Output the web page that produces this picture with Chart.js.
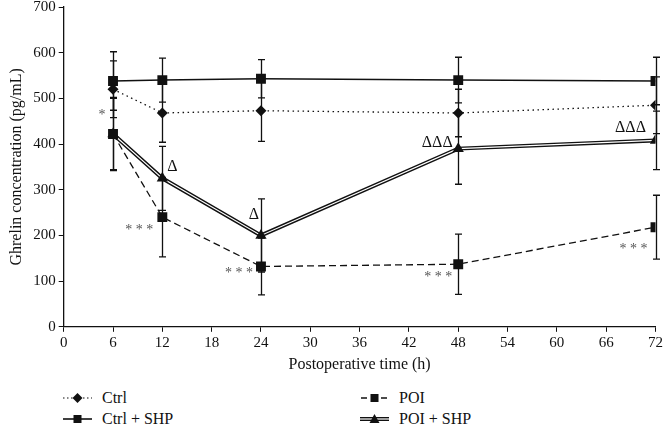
<html>
<head>
<style>
  body { margin: 0; background: #fff; font-family: "Liberation Serif", "DejaVu Serif", serif; }
  #wrap { position: relative; width: 665px; height: 374px; overflow: hidden; }
  #myChart { position: absolute; left: 0; top: -5px; }
  #legend { position: relative; width: 665px; height: 57px; font-size: 16px; color: #111; }
  .item { position: absolute; display: flex; align-items: center; line-height: 18px; }
  .item svg { margin-right: 10px; }
</style>
</head>
<body>
<div id="wrap"><canvas id="myChart" width="665" height="379"></canvas></div>
<div id="legend">
  <div class="item" style="left:63px;top:15px">
    <svg width="29" height="12"><line x1="0" y1="6" x2="29" y2="6" stroke="#111" stroke-width="1.2" stroke-dasharray="1.5,2.5"/><path d="M14.5 1 L19.5 6 L14.5 11 L9.5 6 Z" fill="#111"/></svg>Ctrl</div>
  <div class="item" style="left:360px;top:15px">
    <svg width="29" height="12"><line x1="0" y1="6" x2="29" y2="6" stroke="#111" stroke-width="1.3" stroke-dasharray="6,4" stroke-dashoffset="-1"/><rect x="10.5" y="2" width="8" height="8" fill="#111"/></svg>POI</div>
  <div class="item" style="left:63px;top:36px">
    <svg width="29" height="12"><line x1="0" y1="6" x2="29" y2="6" stroke="#111" stroke-width="1.6"/><rect x="10.5" y="2" width="8" height="8" fill="#111"/></svg>Ctrl + SHP</div>
  <div class="item" style="left:360px;top:36px">
    <svg width="29" height="12"><line x1="0" y1="6" x2="29" y2="6" stroke="#111" stroke-width="4"/><line x1="0" y1="6" x2="29" y2="6" stroke="#fff" stroke-width="1.2"/><path d="M14.5 1 L19.5 10 L9.5 10 Z" fill="#111"/></svg>POI + SHP</div>
</div>
<script src="https://cdn.jsdelivr.net/npm/chart.js@4.4.0/dist/chart.umd.min.js"></script>
<script>
    const hours = [6, 12, 24, 48, 72];
    const ctrl = [520, 468, 473, 468, 485];
    const ctrlSd = [62, 64, 67, 52, 62];
    const ctrlShp = [538, 540, 543, 540, 538];
    const ctrlShpSd = [64, 48, 42, 50, 52];
    const poi = [422, 240, 132, 137, 218];
    const poiSd = [80, 87, 62, 66, 70];
    const poiShp = [422, 325, 200, 390, 408];
    const poiShpSd = [78, 70, 80, 78, 64];
    const xTicks = [0, 6, 12, 18, 24, 30, 36, 42, 48, 54, 60, 66, 72];
    const yTicks = [0, 100, 200, 300, 400, 500, 600, 700];

    const marks = [
        { x: 6, y: 422, text: "*", dx: -11, dy: -22, star: true },
        { x: 12, y: 325, text: "Δ", dx: 10, dy: -12 },
        { x: 12, y: 240, text: "***", dx: -23, dy: 10, star: true },
        { x: 24, y: 200, text: "Δ", dx: -7, dy: -21 },
        { x: 24, y: 132, text: "***", dx: -22, dy: 4, star: true },
        { x: 48, y: 390, text: "ΔΔΔ", dx: -21, dy: -6 },
        { x: 48, y: 137, text: "***", dx: -20, dy: 10, star: true },
        { x: 72, y: 408, text: "ΔΔΔ", dx: -25, dy: -13 },
        { x: 72, y: 218, text: "***", dx: -22, dy: 19, star: true }
    ];

    const pts = (vals) => hours.map((h, i) => ({ x: h, y: vals[i] }));

    const errorBars = {
        id: "errorBars",
        beforeDatasetsDraw(chart) {
            const xs = chart.scales.x, ys = chart.scales.y, c = chart.ctx;
            const sets = [[ctrl, ctrlSd], [ctrlShp, ctrlShpSd], [poi, poiSd], [poiShp, poiShpSd]];
            c.save();
            c.strokeStyle = "#111";
            c.lineWidth = 1.3;
            sets.forEach(([m, sd]) => {
                hours.forEach((h, i) => {
                    const px = Math.round(xs.getPixelForValue(h)) + 0.5;
                    const top = ys.getPixelForValue(m[i] + sd[i]);
                    const bot = ys.getPixelForValue(m[i] - sd[i]);
                    c.beginPath();
                    c.moveTo(px, top); c.lineTo(px, bot);
                    c.moveTo(px - 3.5, top); c.lineTo(px + 3.5, top);
                    c.moveTo(px - 3.5, bot); c.lineTo(px + 3.5, bot);
                    c.stroke();
                });
            });
            c.restore();
        },
        afterDatasetsDraw(chart) {
            const xs = chart.scales.x, ys = chart.scales.y, c = chart.ctx;
            c.save();
            c.textAlign = "center";
            c.textBaseline = "middle";
            marks.forEach(m => {
                const px = xs.getPixelForValue(m.x) + m.dx;
                const py = ys.getPixelForValue(m.y) + m.dy;
                if (m.star) {
                    c.fillStyle = "#555";
                    c.font = "14px 'Liberation Serif'";
                    c.fillText(m.text.split("").join(" "), px, py + 3);
                } else {
                    c.fillStyle = "#111";
                    c.font = "16px 'Liberation Serif'";
                    c.fillText(m.text, px, py);
                }
            });
            c.restore();
        }
    };

    let myChart = new Chart("myChart", {
        type: "line",
        data: {
            datasets: [
                { label: "Ctrl", data: pts(ctrl), borderColor: "#111", borderWidth: 1.3, borderDash: [1.5, 3.5],
                  pointStyle: "rectRot", pointRadius: 5.5, pointBackgroundColor: "#111", pointBorderWidth: 0, order: 2 },
                { label: "Ctrl + SHP", data: pts(ctrlShp), borderColor: "#111", borderWidth: 1.5,
                  pointStyle: "rect", pointRadius: 7, pointBackgroundColor: "#111", pointBorderWidth: 0, order: 2 },
                { label: "POI", data: pts(poi), borderColor: "#111", borderWidth: 1.3, borderDash: [7, 4],
                  pointStyle: "rect", pointRadius: 7, pointBackgroundColor: "#111", pointBorderWidth: 0, order: 0 },
                { label: "POI + SHP", data: pts(poiShp), borderColor: "#111", borderWidth: 4,
                  pointRadius: 0, order: 4 },
                { label: "POI + SHP inner", data: pts(poiShp), borderColor: "#fff", borderWidth: 1.2,
                  pointStyle: "triangle", pointRadius: 6.5, pointBackgroundColor: "#111", pointBorderWidth: 0, order: 3 }
            ]
        },
        options: {
            responsive: false,
            animation: false,
            layout: { padding: { top: 0, right: 0, left: 3 } },
            plugins: { legend: { display: false }, tooltip: { enabled: false } },
            scales: {
                x: {
                    type: "linear", min: 0, max: 72,
                    afterBuildTicks: (s) => { s.ticks = xTicks.map(v => ({ value: v })); },
                    grid: { drawOnChartArea: false, drawTicks: true, tickLength: 5, color: "#111" },
                    border: { color: "#111", width: 1.3 },
                    ticks: { color: "#111", font: { family: "Liberation Serif", size: 15 }, padding: 2 },
                    title: { display: true, text: "Postoperative time (h)", color: "#111",
                             font: { family: "Liberation Serif", size: 16 }, padding: { top: 1, bottom: 0 } }
                },
                y: {
                    min: 0, max: 700,
                    afterBuildTicks: (s) => { s.ticks = yTicks.map(v => ({ value: v })); },
                    grid: { drawOnChartArea: false, drawTicks: true, tickLength: 5, color: "#111" },
                    border: { color: "#111", width: 1.3 },
                    ticks: { color: "#111", font: { family: "Liberation Serif", size: 15 }, padding: 3 },
                    title: { display: true, text: "Ghrelin concentration (pg/mL)", color: "#111",
                             font: { family: "Liberation Serif", size: 16 }, padding: { bottom: 4 } }
                }
            }
        },
        plugins: [errorBars]
    });
</script>
</body>
</html>
